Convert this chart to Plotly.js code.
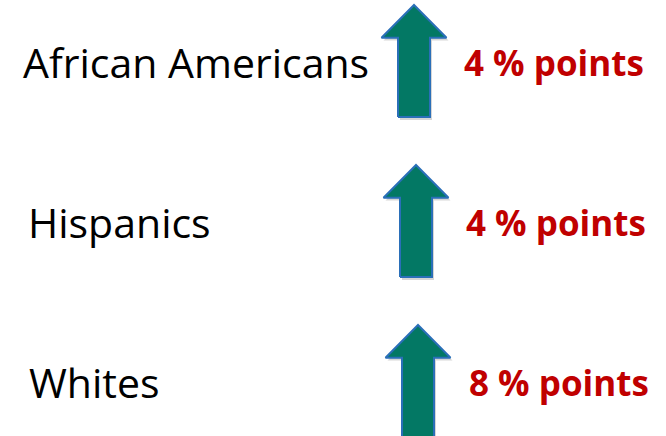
<!DOCTYPE html>
<html>
<head>
<meta charset="utf-8">
<script src="https://cdn.plot.ly/plotly-3.0.1.min.js"></script>
<style>
  html, body { margin: 0; padding: 0; background: #fff; }
  #chart { width: 666px; height: 436px; }
</style>
</head>
<body>
<div id="chart"></div>
<script>
// groups and change in percentage points
var groups = ['African Americans', 'Hispanics', 'Whites'];
var changes = [4, 4, 8];
var unitText = '% points';

var chartDiv = document.getElementById('chart');
var traces = [];
var annotations = [];

// layout bits (px on x, row units on y)
var labelX = [21, 26, 27];
var valueX = [462, 464, 467];
var arrowX0 = 414;
var arrowStep = 2;
var shaftHalf = 16;
var headHalf = 32.5;
var tipOff = -0.356;
var headOff = -0.152;
var bottomOff = 0.344;

function arrowPath(row, dx, dy)
{
  var cx = arrowX0 + arrowStep * row;
  var xs = [cx - shaftHalf, cx - shaftHalf, cx - headHalf, cx,
            cx + headHalf, cx + shaftHalf, cx + shaftHalf, cx - shaftHalf];
  var ys = [row + bottomOff, row + headOff, row + headOff, row + tipOff,
            row + headOff, row + headOff, row + bottomOff, row + bottomOff];
  return {
    x: xs.map(function(v){ return v + dx; }),
    y: ys.map(function(v){ return v + dy; })
  };
}

for (var i = 0; i < groups.length; i++)
{
  // soft shadow
  var sh = arrowPath(i, 2, 0.018);
  traces.push({
    x: sh.x, y: sh.y, type: 'scatter', mode: 'lines',
    fill: 'toself', fillcolor: 'rgba(0,0,0,0.16)',
    line: { width: 0 }, hoverinfo: 'skip'
  });
  var p = arrowPath(i, 0, 0);
  traces.push({
    x: p.x, y: p.y, type: 'scatter', mode: 'lines',
    fill: 'toself', fillcolor: '#037864',
    line: { color: '#2A6FB8', width: 2 }, hoverinfo: 'skip'
  });

  annotations.push({
    x: labelX[i], y: i, xref: 'x', yref: 'y', xanchor: 'left', yanchor: 'middle',
    text: groups[i], showarrow: false,
    font: { family: 'Open Sans', size: 41, color: '#000000' }
  });
  annotations.push({
    x: valueX[i], y: i, xref: 'x', yref: 'y', xanchor: 'left', yanchor: 'middle',
    text: '<b>' + changes[i] + ' ' + unitText + '</b>', showarrow: false,
    font: { family: 'Open Sans', size: 35, color: '#C00000' }
  });
}

var layout = {
  width: 666,
  height: 436,
  margin: { l: 0, r: 0, t: 0, b: 0 },
  paper_bgcolor: '#ffffff',
  plot_bgcolor: '#ffffff',
  showlegend: false,
  xaxis: { range: [0, 666], visible: false, fixedrange: true },
  yaxis: { range: [2.3375, -0.3875], visible: false, fixedrange: true },
  annotations: annotations
};

Plotly.newPlot(chartDiv, traces, layout, { staticPlot: true, displayModeBar: false });
</script>
</body>
</html>
